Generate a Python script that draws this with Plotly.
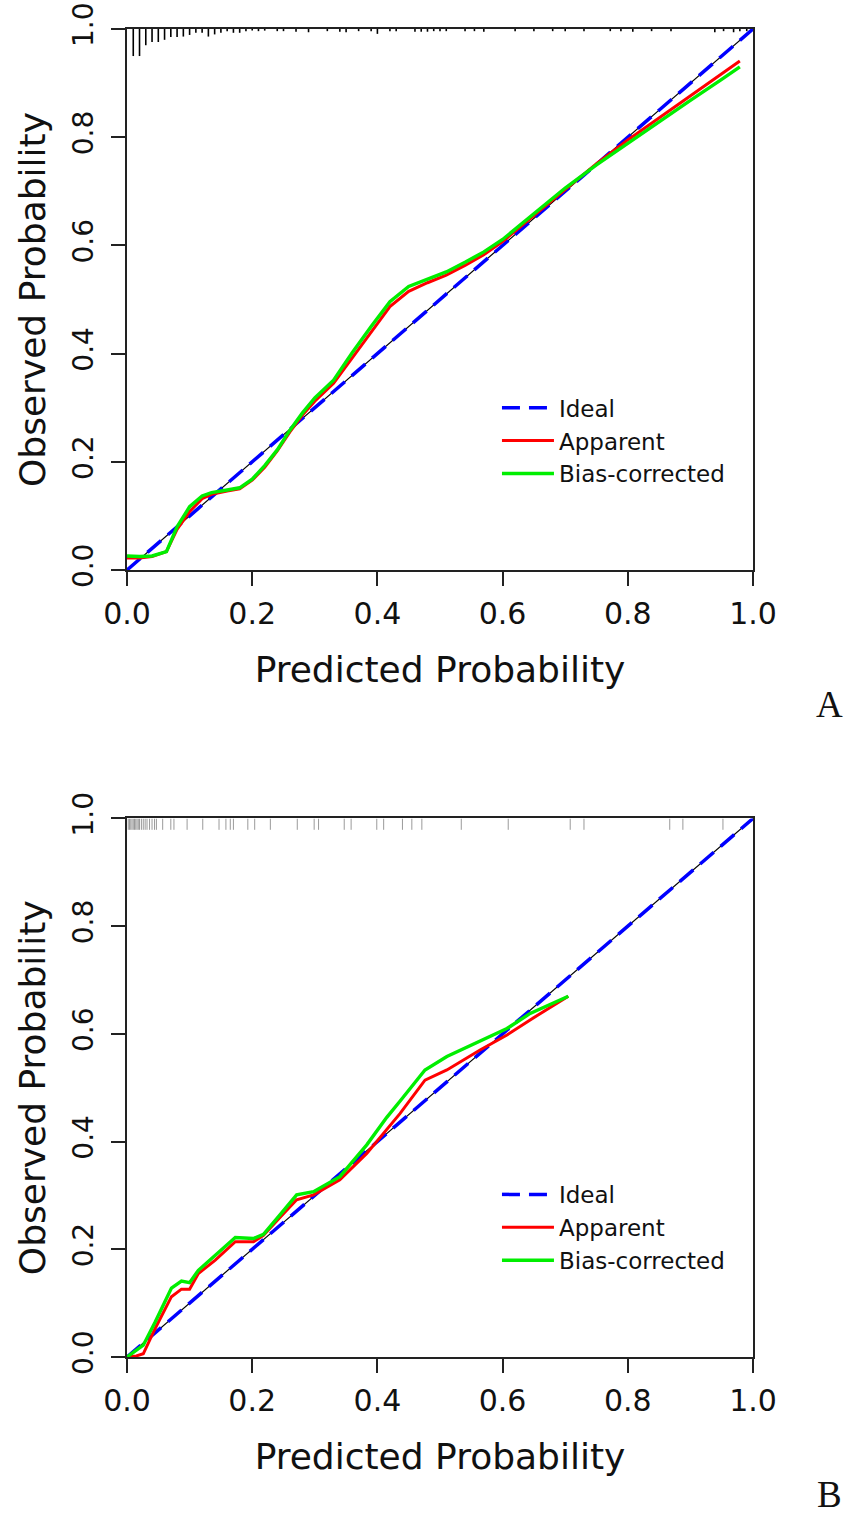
import plotly.graph_objects as go

# ---------------- data ----------------
tick_vals = [0.0, 0.2, 0.4, 0.6, 0.8, 1.0]
tick_text = ["0.0", "0.2", "0.4", "0.6", "0.8", "1.0"]

ideal_x = [0.0, 1.0]
ideal_y = [0.0, 1.0]

# Panel A
a_x = [0.0, 0.02, 0.04, 0.063, 0.08, 0.10, 0.12, 0.135, 0.16, 0.18, 0.20, 0.22, 0.24,
       0.26, 0.28, 0.30, 0.33, 0.36, 0.39, 0.42, 0.45, 0.48, 0.51, 0.54, 0.57, 0.60,
       0.65, 0.70, 0.75, 0.80, 0.85, 0.90, 0.95, 0.979]
a_apparent = [0.022, 0.022, 0.025, 0.034, 0.075, 0.108, 0.132, 0.140, 0.146, 0.150, 0.166,
              0.190, 0.220, 0.255, 0.286, 0.312, 0.345, 0.393, 0.440, 0.487, 0.515, 0.531,
              0.545, 0.563, 0.583, 0.607, 0.655, 0.703, 0.751, 0.795, 0.836, 0.877, 0.918, 0.941]
a_bias = [0.026, 0.025, 0.026, 0.034, 0.080, 0.117, 0.137, 0.143, 0.148, 0.152, 0.168,
          0.193, 0.222, 0.258, 0.290, 0.318, 0.351, 0.402, 0.450, 0.496, 0.524, 0.538,
          0.551, 0.569, 0.588, 0.611, 0.658, 0.706, 0.749, 0.789, 0.828, 0.868, 0.907, 0.930]

a_rug_x = [0.01, 0.02, 0.03, 0.04, 0.05, 0.06, 0.07, 0.08, 0.09, 0.10, 0.11, 0.12, 0.13,
           0.14, 0.15, 0.16, 0.17, 0.18, 0.19, 0.20, 0.21, 0.22, 0.24, 0.25, 0.27, 0.29,
           0.32, 0.34, 0.35, 0.37, 0.39, 0.40, 0.42, 0.43, 0.46, 0.47, 0.48, 0.49, 0.50,
           0.51, 0.54, 0.555, 0.57, 0.62, 0.65, 0.68, 0.70, 0.73, 0.772, 0.789, 0.808,
           0.838, 0.869, 0.939, 0.953, 0.969, 0.979, 0.99]
a_rug_len = [0.050, 0.050, 0.030, 0.024, 0.024, 0.020, 0.015, 0.015, 0.014, 0.011, 0.007,
             0.007, 0.014, 0.010, 0.007, 0.004, 0.007, 0.007, 0.004, 0.003, 0.004, 0.003,
             0.004, 0.004, 0.005, 0.006, 0.004, 0.005, 0.006, 0.004, 0.004, 0.009, 0.004,
             0.004, 0.005, 0.005, 0.005, 0.004, 0.004, 0.004, 0.004, 0.004, 0.005, 0.004,
             0.004, 0.004, 0.004, 0.004, 0.004, 0.004, 0.005, 0.004, 0.004, 0.006, 0.004,
             0.006, 0.004, 0.004]

# Panel B
b_x = [0.0, 0.015, 0.026, 0.045, 0.071, 0.087, 0.10, 0.114, 0.141, 0.173, 0.202, 0.218,
       0.245, 0.271, 0.298, 0.34, 0.383, 0.415, 0.436, 0.476, 0.511, 0.564, 0.607, 0.644, 0.705]
b_apparent = [0.0, 0.002, 0.006, 0.053, 0.112, 0.126, 0.126, 0.155, 0.180, 0.214, 0.214,
              0.226, 0.260, 0.292, 0.301, 0.329, 0.378, 0.422, 0.452, 0.514, 0.533, 0.570,
              0.598, 0.626, 0.670]
b_bias = [0.0, 0.013, 0.022, 0.065, 0.128, 0.141, 0.138, 0.161, 0.189, 0.222, 0.220,
          0.228, 0.265, 0.301, 0.307, 0.335, 0.394, 0.445, 0.475, 0.533, 0.558, 0.586,
          0.610, 0.638, 0.670]

b_rug_x = [0.002, 0.004, 0.006, 0.008, 0.010, 0.012, 0.014, 0.016, 0.018, 0.020, 0.023,
           0.026, 0.029, 0.032, 0.036, 0.040, 0.044, 0.047, 0.057, 0.070, 0.075, 0.096,
           0.121, 0.147, 0.158, 0.165, 0.170, 0.193, 0.204, 0.229, 0.272, 0.299, 0.306,
           0.347, 0.358, 0.399, 0.410, 0.440, 0.455, 0.471, 0.534, 0.609, 0.708, 0.730,
           0.867, 0.888, 0.952]
b_rug_len = 0.021

# ---------------- helpers ----------------
def rug_xy(xs, lens):
    if not isinstance(lens, list):
        lens = [lens] * len(xs)
    X, Y = [], []
    for x, l in zip(xs, lens):
        X += [x, x, None]
        Y += [1.0, 1.0 - l, None]
    return X, Y

FONT = "DejaVu Sans"
BLUE = "#0000FF"
RED = "#FF0000"
GREEN = "#00EE00"

fig = go.Figure()

panels = [
    ("x", "y", "legend", a_x, a_apparent, a_bias, a_rug_x, a_rug_len, "#000000", 1.6),
    ("x2", "y2", "legend2", b_x, b_apparent, b_bias, b_rug_x, b_rug_len, "#9a9a9a", 1.0),
]

for xa, ya, lg, px, pa, pb, rx, rl, rc, rw in panels:
    RX, RY = rug_xy(rx, rl)
    fig.add_trace(go.Scatter(x=RX, y=RY, mode="lines", xaxis=xa, yaxis=ya,
                             line=dict(color=rc, width=rw), showlegend=False,
                             hoverinfo="skip"))
    fig.add_trace(go.Scatter(x=ideal_x, y=ideal_y, mode="lines", xaxis=xa, yaxis=ya,
                             line=dict(color="#000000", width=1.2), showlegend=False,
                             hoverinfo="skip"))
    fig.add_trace(go.Scatter(x=ideal_x, y=ideal_y, mode="lines", xaxis=xa, yaxis=ya,
                             name="Ideal", legend=lg,
                             line=dict(color=BLUE, width=3.5, dash="18px,9px")))
    fig.add_trace(go.Scatter(x=px, y=pa, mode="lines", xaxis=xa, yaxis=ya,
                             name="Apparent", legend=lg,
                             line=dict(color=RED, width=3.0)))
    fig.add_trace(go.Scatter(x=px, y=pb, mode="lines", xaxis=xa, yaxis=ya,
                             name="Bias-corrected", legend=lg,
                             line=dict(color=GREEN, width=3.4)))

axis_common = dict(
    range=[0, 1], tickvals=tick_vals, ticktext=tick_text, ticks="outside",
    ticklen=14, tickwidth=1.6, tickcolor="#222222", showline=True, mirror=True,
    linecolor="#222222", linewidth=1.6, showgrid=False, zeroline=False,
    fixedrange=True, automargin=False, ticklabeloverflow="allow",
)
x_tickfont = dict(family=FONT, size=30, color="#111111")
y_tickfont = dict(family=FONT, size=28, color="#111111")

fig.update_layout(
    width=851, height=1514,
    margin=dict(l=127, r=98, t=29, b=157, pad=0, autoexpand=False),
    paper_bgcolor="white", plot_bgcolor="white",
    font=dict(family=FONT, color="#111111"),
    xaxis=dict(**axis_common, domain=[0, 1], anchor="y", ticklabelstandoff=2,
               tickfont=x_tickfont,
               title=dict(text="Predicted Probability", font=dict(size=36), standoff=27)),
    yaxis=dict(**axis_common, domain=[0.5926, 1.0], anchor="x", tickangle=-90,
               ticklabelstandoff=7, tickfont=y_tickfont,
               title=dict(text="Observed Probability", font=dict(size=36), standoff=10)),
    xaxis2=dict(**axis_common, domain=[0, 1], anchor="y2", ticklabelstandoff=2,
                tickfont=x_tickfont,
                title=dict(text="Predicted Probability", font=dict(size=36), standoff=27)),
    yaxis2=dict(**axis_common, domain=[0.0, 0.4055], anchor="x2", tickangle=-90,
                ticklabelstandoff=7, tickfont=y_tickfont,
                title=dict(text="Observed Probability", font=dict(size=36), standoff=10)),
    legend=dict(x=0.591, y=0.731, xanchor="left", yanchor="top",
                bgcolor="rgba(0,0,0,0)", borderwidth=0,
                font=dict(family=FONT, size=23, color="#111111"), itemwidth=52),
    legend2=dict(x=0.591, y=0.1386, xanchor="left", yanchor="top",
                 bgcolor="rgba(0,0,0,0)", borderwidth=0,
                 font=dict(family=FONT, size=23, color="#111111"), itemwidth=52),
    annotations=[
        dict(text="A", x=1.123, y=0.4917, xref="paper", yref="paper", showarrow=False,
             xanchor="center", yanchor="middle",
             font=dict(family="Liberation Serif", size=37, color="#111111")),
        dict(text="B", x=1.123, y=-0.1032, xref="paper", yref="paper", showarrow=False,
             xanchor="center", yanchor="middle",
             font=dict(family="Liberation Serif", size=37, color="#111111")),
    ],
)

# remove the default page margin so the figure fills the window exactly
fig.write_html("out.html",
               config={"displayModeBar": False},
               post_script="document.body.style.margin='0px';"
                           "document.body.style.overflow='hidden';")
